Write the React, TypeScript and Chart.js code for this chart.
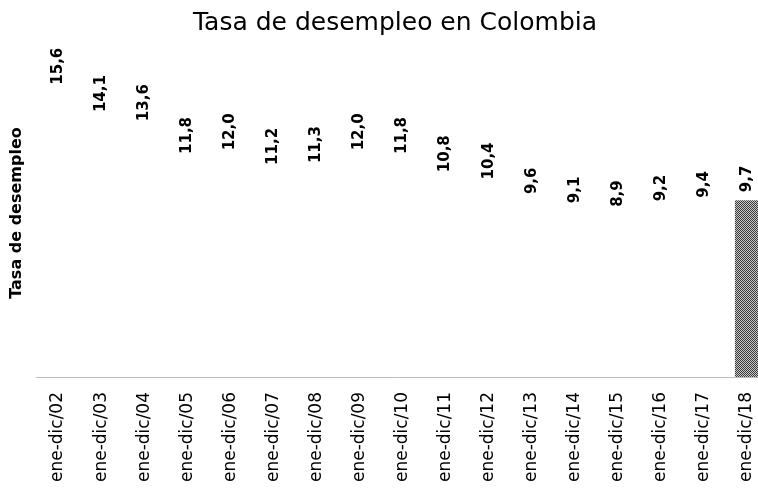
import React, { useEffect, useRef } from 'react';
import { Chart, registerables } from 'chart.js';

Chart.register(...registerables);

const categories = [
  'ene-dic/02', 'ene-dic/03', 'ene-dic/04', 'ene-dic/05', 'ene-dic/06', 'ene-dic/07',
  'ene-dic/08', 'ene-dic/09', 'ene-dic/10', 'ene-dic/11', 'ene-dic/12', 'ene-dic/13',
  'ene-dic/14', 'ene-dic/15', 'ene-dic/16', 'ene-dic/17', 'ene-dic/18',
];
const values = [15.6, 14.1, 13.6, 11.8, 12.0, 11.2, 11.3, 12.0, 11.8, 10.8, 10.4, 9.6, 9.1, 8.9, 9.2, 9.4, 9.7];
const highlighted = ['ene-dic/18'];
const chartTitle = 'Tasa de desempleo en Colombia';
const yAxisTitle = 'Tasa de desempleo';
const yMin = 0;
const yMax = 18;

function makeDitherPattern(): CanvasPattern | string {
  const c = document.createElement('canvas');
  c.width = 4;
  c.height = 4;
  const g = c.getContext('2d');
  if (!g) return '#999999';
  g.fillStyle = '#c8c8c8';
  g.fillRect(0, 0, 4, 4);
  g.fillStyle = '#3a3a3a';
  for (let y = 0; y < 4; y++) {
    for (let x = 0; x < 4; x++) {
      if ((x + y) % 2 === 0) g.fillRect(x, y, 1, 1);
    }
  }
  const p = g.createPattern(c, 'repeat');
  return p || '#999999';
}

// The reference picture is cropped on the right: the plot area runs past the canvas edge.
const cropOverflow = {
  id: 'cropOverflow',
  afterLayout(chart: any) {
    const x = chart.scales.x;
    const extra = 10.5;
    x.right = chart.width + extra;
    x.width = x.right - x.left;
    x.configure();
    chart.chartArea.right = x.right;
    chart.chartArea.width = x.right - chart.chartArea.left;
  },
};

const valueLabels = {
  id: 'valueLabels',
  afterDatasetsDraw(chart: any) {
    const ctx = chart.ctx as CanvasRenderingContext2D;
    const meta = chart.getDatasetMeta(0);
    ctx.save();
    ctx.font = 'bold 15px "DejaVu Sans"';
    ctx.fillStyle = '#000000';
    ctx.textAlign = 'left';
    ctx.textBaseline = 'middle';
    meta.data.forEach((bar: any, i: number) => {
      const txt = values[i].toFixed(1).replace('.', ',');
      ctx.save();
      ctx.translate(bar.x, bar.y - 8);
      ctx.rotate(-Math.PI / 2);
      ctx.fillText(txt, 0, 0);
      ctx.restore();
    });
    ctx.restore();
  },
};

export default function App() {
  const canvasRef = useRef<HTMLCanvasElement | null>(null);

  useEffect(() => {
    const canvas = canvasRef.current;
    if (!canvas) return;
    const pattern = makeDitherPattern();
    const chart = new Chart(canvas, {
      type: 'bar',
      data: {
        labels: categories,
        datasets: [
          {
            data: values,
            backgroundColor: categories.map((c) => (highlighted.includes(c) ? pattern : '#ffffff')) as any,
            borderWidth: 0,
            barPercentage: 0.56,
            categoryPercentage: 1,
          },
        ],
      },
      options: {
        responsive: false,
        animation: false,
        layout: { padding: { left: 32, right: 0, top: 0, bottom: 0 } },
        plugins: {
          legend: { display: false },
          tooltip: { enabled: false },
          title: {
            display: true,
            text: chartTitle,
            color: '#000000',
            font: { family: 'DejaVu Sans', size: 25, weight: 'normal' },
            padding: { top: 8, bottom: 11 },
          },
        },
        scales: {
          x: {
            grid: { display: false, drawTicks: false },
            border: { display: true, color: '#bcbcbc', dash: [1, 5] },
            ticks: {
              color: '#000000',
              font: { family: 'DejaVu Sans', size: 17 },
              minRotation: 90,
              maxRotation: 90,
              padding: 15,
              autoSkip: false,
            },
            afterFit: (s: any) => {
              s.height = 117;
              s.paddingLeft = 0;
              s.paddingRight = 0;
            },
          },
          y: {
            min: yMin,
            max: yMax,
            grid: { display: false, drawTicks: false },
            border: { display: false },
            ticks: { display: false },
            title: {
              display: true,
              text: yAxisTitle,
              color: '#000000',
              font: { family: 'DejaVu Sans', size: 16, weight: 'bold' },
              padding: { top: -24.6, bottom: 0 },
            },
            afterFit: (s: any) => {
              s.width = 4.5;
            },
          },
        },
      },
      plugins: [cropOverflow, valueLabels],
    });
    return () => chart.destroy();
  }, []);

  return (
    <div style={{ position: 'fixed', left: 0, top: 0, width: 758, height: 494, background: '#ffffff' }}>
      <canvas ref={canvasRef} width={758} height={494} style={{ display: 'block' }} />
    </div>
  );
}
